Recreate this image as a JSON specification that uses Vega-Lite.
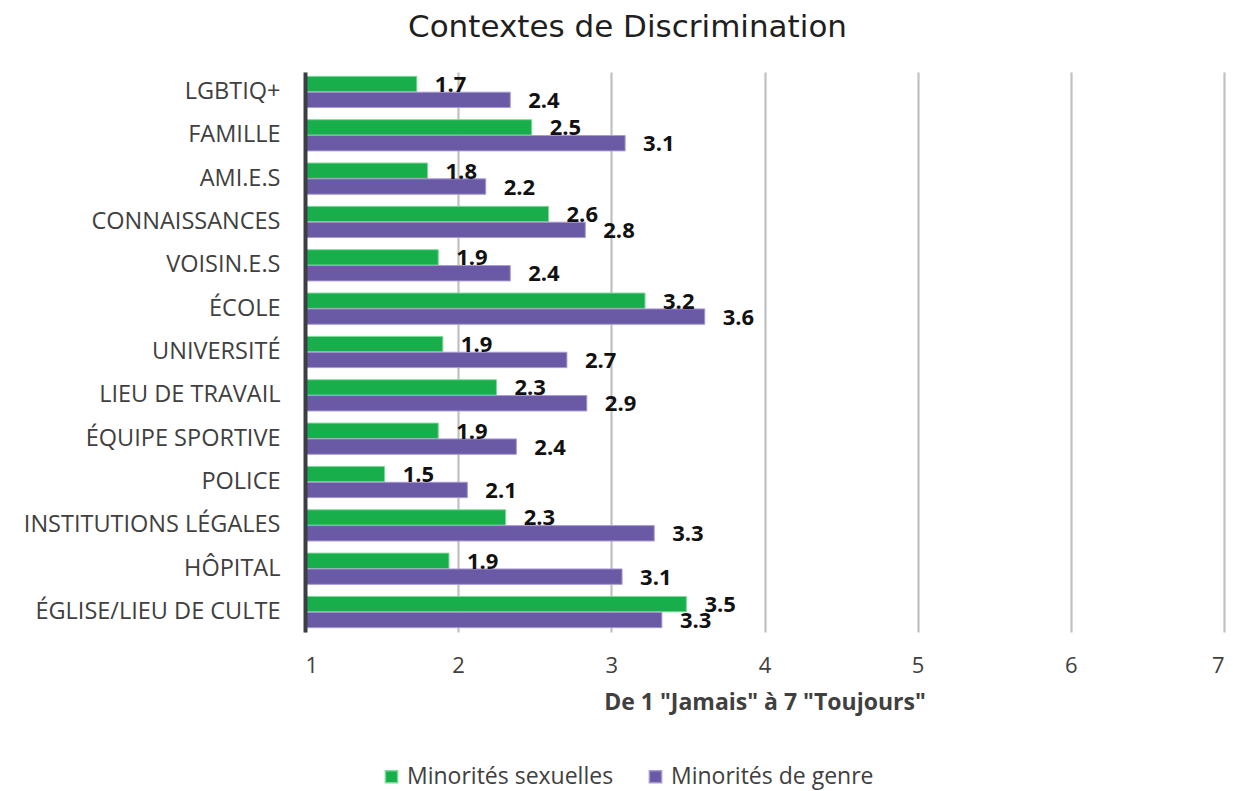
{
  "$schema": "https://vega.github.io/schema/vega-lite/v6.json",
  "width": 919,
  "height": 560,
  "autosize": "none",
  "padding": {"left": 305, "top": 72, "right": 9, "bottom": 159},
  "background": "white",
  "title": {
    "text": "Contextes de Discrimination",
    "font": "DejaVu Sans",
    "fontSize": 31,
    "fontWeight": "normal",
    "color": "#1f1f1f",
    "anchor": "middle",
    "dx": -137,
    "offset": 28
  },
  "data": {
    "values": [
      {"contexte": "LGBTIQ+", "groupe": "Minorités sexuelles", "valeur": 1.73, "label": "1.7"},
      {"contexte": "LGBTIQ+", "groupe": "Minorités de genre", "valeur": 2.34, "label": "2.4"},
      {"contexte": "FAMILLE", "groupe": "Minorités sexuelles", "valeur": 2.48, "label": "2.5"},
      {"contexte": "FAMILLE", "groupe": "Minorités de genre", "valeur": 3.09, "label": "3.1"},
      {"contexte": "AMI.E.S", "groupe": "Minorités sexuelles", "valeur": 1.8, "label": "1.8"},
      {"contexte": "AMI.E.S", "groupe": "Minorités de genre", "valeur": 2.18, "label": "2.2"},
      {"contexte": "CONNAISSANCES", "groupe": "Minorités sexuelles", "valeur": 2.59, "label": "2.6"},
      {"contexte": "CONNAISSANCES", "groupe": "Minorités de genre", "valeur": 2.83, "label": "2.8"},
      {"contexte": "VOISIN.E.S", "groupe": "Minorités sexuelles", "valeur": 1.87, "label": "1.9"},
      {"contexte": "VOISIN.E.S", "groupe": "Minorités de genre", "valeur": 2.34, "label": "2.4"},
      {"contexte": "ÉCOLE", "groupe": "Minorités sexuelles", "valeur": 3.22, "label": "3.2"},
      {"contexte": "ÉCOLE", "groupe": "Minorités de genre", "valeur": 3.61, "label": "3.6"},
      {"contexte": "UNIVERSITÉ", "groupe": "Minorités sexuelles", "valeur": 1.9, "label": "1.9"},
      {"contexte": "UNIVERSITÉ", "groupe": "Minorités de genre", "valeur": 2.71, "label": "2.7"},
      {"contexte": "LIEU DE TRAVAIL", "groupe": "Minorités sexuelles", "valeur": 2.25, "label": "2.3"},
      {"contexte": "LIEU DE TRAVAIL", "groupe": "Minorités de genre", "valeur": 2.84, "label": "2.9"},
      {"contexte": "ÉQUIPE SPORTIVE", "groupe": "Minorités sexuelles", "valeur": 1.87, "label": "1.9"},
      {"contexte": "ÉQUIPE SPORTIVE", "groupe": "Minorités de genre", "valeur": 2.38, "label": "2.4"},
      {"contexte": "POLICE", "groupe": "Minorités sexuelles", "valeur": 1.52, "label": "1.5"},
      {"contexte": "POLICE", "groupe": "Minorités de genre", "valeur": 2.06, "label": "2.1"},
      {"contexte": "INSTITUTIONS LÉGALES", "groupe": "Minorités sexuelles", "valeur": 2.31, "label": "2.3"},
      {"contexte": "INSTITUTIONS LÉGALES", "groupe": "Minorités de genre", "valeur": 3.28, "label": "3.3"},
      {"contexte": "HÔPITAL", "groupe": "Minorités sexuelles", "valeur": 1.94, "label": "1.9"},
      {"contexte": "HÔPITAL", "groupe": "Minorités de genre", "valeur": 3.07, "label": "3.1"},
      {"contexte": "ÉGLISE/LIEU DE CULTE", "groupe": "Minorités sexuelles", "valeur": 3.49, "label": "3.5"},
      {"contexte": "ÉGLISE/LIEU DE CULTE", "groupe": "Minorités de genre", "valeur": 3.33, "label": "3.3"}
    ]
  },
  "encoding": {
    "y": {
      "field": "contexte",
      "type": "nominal",
      "sort": null,
      "scale": {"paddingInner": 0.28, "paddingOuter": 0.1},
      "axis": {
        "title": null,
        "ticks": false,
        "domain": true,
        "domainColor": "#3b3e42",
        "domainWidth": 4,
        "zindex": 2,
        "labelFont": "Open Sans",
        "labelFontSize": 23.5,
        "labelColor": "#404040",
        "labelPadding": 25,
        "labelLimit": 400
      }
    },
    "yOffset": {
      "field": "groupe",
      "type": "nominal",
      "sort": ["Minorités sexuelles", "Minorités de genre"],
      "scale": {"paddingInner": 0.03}
    },
    "x": {
      "field": "valeur",
      "type": "quantitative",
      "scale": {"domain": [1, 7], "nice": false, "zero": false},
      "axis": {
        "title": "De 1 \"Jamais\" à 7 \"Toujours\"",
        "titleFont": "Open Sans",
        "titleFontSize": 23,
        "titleFontWeight": "bold",
        "titleColor": "#404040",
        "titlePadding": 15,
        "values": [1, 2, 3, 4, 5, 6, 7],
        "format": "d",
        "ticks": false,
        "domain": false,
        "grid": true,
        "gridColor": "#c0c0c0",
        "gridWidth": 2.2,
        "labelFont": "Open Sans",
        "labelFontSize": 22,
        "labelColor": "#404040",
        "labelPadding": 23
      }
    }
  },
  "layer": [
    {
      "mark": {"type": "bar", "strokeWidth": 1},
      "encoding": {
        "x2": {"datum": 1},
        "color": {
          "field": "groupe",
          "type": "nominal",
          "scale": {
            "domain": ["Minorités sexuelles", "Minorités de genre"],
            "range": ["#19ae4c", "#6a5aa5"]
          },
          "legend": {
            "title": null,
            "orient": "none",
            "direction": "horizontal",
            "legendX": 75,
            "legendY": 693,
            "symbolType": "square",
            "symbolSize": 150,
            "symbolStrokeWidth": 1.5,
            "labelFont": "Open Sans",
            "labelFontSize": 23,
            "labelColor": "#404040",
            "labelLimit": 400,
            "columnPadding": 30,
            "labelOffset": 4
          }
        },
        "stroke": {
          "field": "groupe",
          "type": "nominal",
          "scale": {
            "domain": ["Minorités sexuelles", "Minorités de genre"],
            "range": ["#7fd89a", "#a898d2"]
          },
          "legend": null
        }
      }
    },
    {
      "mark": {
        "type": "text",
        "align": "left",
        "baseline": "middle",
        "dx": 18,
        "dy": 1,
        "font": "Open Sans",
        "fontSize": 22,
        "fontWeight": "bold",
        "color": "#111111"
      },
      "encoding": {
        "text": {"field": "label", "type": "nominal"}
      }
    }
  ],
  "config": {
    "view": {"stroke": null}
  }
}
